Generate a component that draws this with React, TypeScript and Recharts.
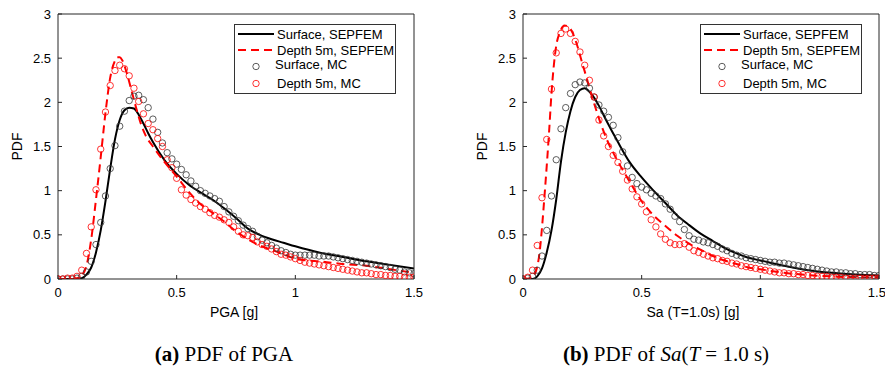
import { ComposedChart, Legend, Line, Scatter, XAxis, YAxis } from 'recharts';

// MC histogram bin positions (g)
const mcX = [
  0, 0.02, 0.04, 0.06, 0.08, 0.1, 0.12, 0.14, 0.16, 0.18,
  0.2, 0.22, 0.24, 0.26, 0.28, 0.3, 0.32, 0.34, 0.36, 0.38,
  0.4, 0.42, 0.44, 0.46, 0.48, 0.5, 0.52, 0.54, 0.56, 0.58,
  0.6, 0.62, 0.64, 0.66, 0.68, 0.7, 0.72, 0.74, 0.76, 0.78,
  0.8, 0.82, 0.84, 0.86, 0.88, 0.9, 0.92, 0.94, 0.96, 0.98,
  1.0, 1.02, 1.04, 1.06, 1.08, 1.1, 1.12, 1.14, 1.16, 1.18,
  1.2, 1.22, 1.24, 1.26, 1.28, 1.3, 1.32, 1.34, 1.36, 1.38,
  1.4, 1.42, 1.44, 1.46, 1.48, 1.5,
];

// (a) PGA
const pgaSurfMC = [
  0, 0, 0, 0, 0.01, 0.03, 0.08, 0.2, 0.39, 0.64,
  0.94, 1.25, 1.51, 1.73, 1.9, 2.02, 2.07, 2.08, 2.03, 1.94,
  1.81, 1.66, 1.54, 1.43, 1.36, 1.3, 1.24, 1.18, 1.11, 1.05,
  1.0, 0.97, 0.94, 0.91, 0.88, 0.82, 0.76, 0.71, 0.66, 0.61,
  0.57, 0.54, 0.48, 0.44, 0.41, 0.38, 0.35, 0.32, 0.3, 0.28,
  0.27, 0.27, 0.27, 0.27, 0.27, 0.26, 0.26, 0.26, 0.25, 0.24,
  0.23, 0.22, 0.21, 0.2, 0.19, 0.18, 0.17, 0.16, 0.15, 0.14,
  0.13, 0.11, 0.1, 0.08, 0.07, 0.06,
];
const pgaDepthMC = [
  0, 0, 0.01, 0.01, 0.03, 0.1, 0.29, 0.59, 1.01, 1.47,
  1.89, 2.19, 2.36, 2.42, 2.38, 2.3, 2.16, 2.01, 1.87, 1.76,
  1.69, 1.59, 1.5, 1.35, 1.26, 1.14, 1.01, 0.95, 0.9, 0.86,
  0.82, 0.79, 0.75, 0.72, 0.7, 0.67, 0.64, 0.59, 0.54, 0.5,
  0.49, 0.47, 0.42, 0.39, 0.37, 0.34, 0.31, 0.28, 0.27, 0.25,
  0.23, 0.21, 0.19, 0.18, 0.17, 0.16, 0.15, 0.14, 0.13, 0.12,
  0.11, 0.1, 0.09, 0.08, 0.07, 0.07, 0.06, 0.05, 0.05, 0.04,
  0.04, 0.03, 0.03, 0.02, 0.02, 0.02,
];
const pgaSurfLineX = [
  0, 0.05, 0.1, 0.12, 0.14, 0.16, 0.18, 0.2, 0.22, 0.24, 0.26, 0.28, 0.3, 0.32, 0.34, 0.36, 0.38, 0.4,
  0.45, 0.5, 0.55, 0.6, 0.65, 0.7, 0.75, 0.8, 0.85, 0.9, 0.95, 1.0, 1.1, 1.2, 1.3, 1.4, 1.5,
];
const pgaSurfLine = [
  0, 0, 0.01, 0.05, 0.13, 0.3, 0.55, 0.88, 1.25, 1.58, 1.8, 1.91, 1.94, 1.93, 1.86, 1.76, 1.65, 1.55,
  1.34, 1.19, 1.07, 0.98, 0.9, 0.8, 0.69, 0.57, 0.5, 0.45, 0.41, 0.37, 0.3, 0.25, 0.2, 0.16, 0.12,
];
const pgaDepthLineX = [
  0, 0.06, 0.08, 0.1, 0.12, 0.14, 0.16, 0.18, 0.2, 0.22, 0.24, 0.25, 0.26, 0.27, 0.29, 0.31, 0.33, 0.35, 0.37,
  0.4, 0.45, 0.5, 0.55, 0.6, 0.65, 0.7, 0.75, 0.8, 0.85, 0.9, 0.95, 1.0, 1.05, 1.1, 1.2, 1.3, 1.4, 1.5,
];
const pgaDepthLine = [
  0, 0, 0.01, 0.04, 0.15, 0.45, 0.9, 1.38, 1.88, 2.28, 2.47, 2.51, 2.51, 2.48, 2.33, 2.13, 1.93, 1.75, 1.62,
  1.5, 1.32, 1.16, 0.99, 0.85, 0.75, 0.65, 0.54, 0.45, 0.38, 0.33, 0.28, 0.23, 0.21, 0.2, 0.17, 0.15, 0.11, 0.07,
];

// (b) Sa(T=1.0s)
const saSurfMC = [
  0, 0.01, 0.03, 0.1, 0.26, 0.55, 0.94, 1.35, 1.7, 1.94,
  2.1, 2.2, 2.23, 2.22, 2.16, 2.06, 1.97, 1.9, 1.83, 1.74,
  1.6, 1.44, 1.28, 1.15, 1.08, 1.04, 1.01, 0.97, 0.94, 0.91,
  0.85, 0.79, 0.71, 0.65, 0.56, 0.49, 0.45, 0.44, 0.42, 0.41,
  0.39, 0.37, 0.34, 0.32, 0.29, 0.27, 0.26, 0.24, 0.23, 0.22,
  0.21, 0.2, 0.19, 0.19, 0.18, 0.18, 0.17, 0.16, 0.15, 0.14,
  0.13, 0.12, 0.11, 0.1, 0.09, 0.08, 0.08, 0.07, 0.07, 0.06,
  0.06, 0.05, 0.05, 0.05, 0.04, 0.04,
];
const saDepthMC = [
  0, 0.02, 0.1, 0.38, 0.92, 1.58, 2.15, 2.56, 2.78, 2.83,
  2.78, 2.69, 2.57, 2.42, 2.25, 2.06, 1.8, 1.62, 1.5, 1.4,
  1.32, 1.22, 1.12, 1.02, 0.93, 0.85, 0.76, 0.67, 0.59, 0.51,
  0.45, 0.41, 0.39, 0.39, 0.4, 0.36, 0.32, 0.3, 0.28, 0.26,
  0.24, 0.23, 0.21, 0.2, 0.18, 0.17, 0.15, 0.14, 0.13, 0.12,
  0.11, 0.1, 0.09, 0.08, 0.07, 0.07, 0.06, 0.06, 0.05, 0.05,
  0.04, 0.04, 0.03, 0.03, 0.03, 0.02, 0.02, 0.02, 0.01, 0.01,
  0.01, 0.01, 0.01, 0.01, 0.01, 0.01,
];
const saSurfLineX = [
  0, 0.04, 0.06, 0.08, 0.1, 0.12, 0.14, 0.16, 0.18, 0.2, 0.22, 0.24, 0.26, 0.28, 0.3, 0.32, 0.35,
  0.4, 0.45, 0.5, 0.55, 0.6, 0.65, 0.7, 0.75, 0.8, 0.85, 0.9, 0.95, 1.0, 1.1, 1.2, 1.3, 1.4, 1.5,
];
const saSurfLine = [
  0, 0, 0.03, 0.12, 0.3, 0.55, 0.9, 1.33, 1.66, 1.9, 2.06, 2.14, 2.16, 2.12, 2.05, 1.96, 1.8,
  1.55, 1.32, 1.15, 1.0, 0.86, 0.72, 0.61, 0.51, 0.43, 0.35, 0.29, 0.24, 0.21, 0.15, 0.1, 0.07, 0.05, 0.04,
];
const saDepthLineX = [
  0, 0.03, 0.05, 0.06, 0.07, 0.08, 0.09, 0.1, 0.11, 0.12, 0.13, 0.14, 0.155, 0.175, 0.19, 0.21, 0.23,
  0.25, 0.27, 0.29, 0.31, 0.33, 0.35, 0.4, 0.45, 0.5, 0.55, 0.6, 0.65, 0.7, 0.75, 0.8, 0.85, 0.9, 0.95,
  1.0, 1.1, 1.2, 1.3, 1.4, 1.5,
];
const saDepthLine = [
  0, 0.01, 0.06, 0.14, 0.3, 0.58, 0.92, 1.28, 1.67, 2.1, 2.42, 2.64, 2.79, 2.87, 2.86, 2.78, 2.63,
  2.44, 2.26, 2.07, 1.9, 1.74, 1.6, 1.33, 1.1, 0.88, 0.72, 0.6, 0.49, 0.4, 0.33, 0.26, 0.21, 0.17, 0.13,
  0.11, 0.07, 0.045, 0.03, 0.02, 0.02,
];

const xTicks = [0, 0.5, 1, 1.5];
const yTicks = [0, 0.5, 1, 1.5, 2, 2.5, 3];
const legendLabels = ['Surface, SEPFEM', 'Depth 5m, SEPFEM', 'Surface, MC', 'Depth 5m, MC'];

const RED = '#ff0000';
const AXIS = '#262626';
const SANS = '"Liberation Sans", Arial, Helvetica, sans-serif';
const SERIF = '"Liberation Serif", "Times New Roman", serif';

const toPts = (xs: number[], ys: number[]) => xs.map((x, i) => ({ x, y: ys[i] }));

const ring = (color: string) => (p: any) =>
  <circle cx={p.cx} cy={p.cy} r={3.2} fill="none" stroke={color} strokeWidth={0.8} />;

function LegendBox() {
  const txt = { fontFamily: SANS, fontSize: 13, fill: '#000' };
  return (
    <svg width={163} height={70} style={{ display: 'block' }}>
      <rect x={0.5} y={0.5} width={161} height={69} fill="#fff" stroke="#333" />
      <line x1={4} x2={40} y1={10} y2={10} stroke="#000" strokeWidth={2} />
      <text x={43} y={14.5} {...txt}>{legendLabels[0]}</text>
      <line x1={4} x2={40} y1={26} y2={26} stroke={RED} strokeWidth={2} strokeDasharray="8 5" />
      <text x={43} y={30.5} {...txt}>{legendLabels[1]}</text>
      <circle cx={22} cy={42.5} r={3.2} fill="none" stroke="#333" strokeWidth={0.8} />
      <text x={41} y={45} {...txt}>{legendLabels[2]}</text>
      <circle cx={22} cy={59.5} r={3.2} fill="none" stroke={RED} strokeWidth={0.8} />
      <text x={43} y={63.5} {...txt}>{legendLabels[3]}</text>
    </svg>
  );
}

type PanelProps = {
  width: number;
  yAxisWidth: number;
  yLabelOffset: number;
  marginRight: number;
  legendLeft: number;
  xLabel: string;
  xLabelShift: number;
  surfLine: { x: number; y: number }[];
  depthLine: { x: number; y: number }[];
  surfMC: { x: number; y: number }[];
  depthMC: { x: number; y: number }[];
};

function Panel(p: PanelProps) {
  const tick = { fontSize: 13, fill: '#000', fontFamily: SANS };
  return (
    <ComposedChart
      width={p.width}
      height={330}
      margin={{ top: 13, right: p.marginRight, bottom: 11, left: 0 }}
    >
      <XAxis
        dataKey="x"
        type="number"
        domain={[0, 1.5]}
        ticks={xTicks}
        allowDataOverflow
        height={40}
        stroke={AXIS}
        tickSize={-4}
        tickMargin={13}
        tick={tick}
        label={{
          value: p.xLabel,
          position: 'insideBottom',
          offset: 2,
          dx: p.xLabelShift,
          fill: '#000',
          fontSize: 14,
          fontFamily: SANS,
        }}
      />
      <XAxis
        xAxisId="top"
        orientation="top"
        type="number"
        domain={[0, 1.5]}
        ticks={xTicks}
        height={1}
        stroke={AXIS}
        tickSize={-4}
        tick={false}
      />
      <YAxis
        dataKey="y"
        type="number"
        domain={[0, 3]}
        ticks={yTicks}
        allowDataOverflow
        width={p.yAxisWidth}
        stroke={AXIS}
        tickSize={-4}
        tickMargin={11}
        tick={tick}
        label={{
          value: 'PDF',
          angle: -90,
          position: 'insideLeft',
          offset: p.yLabelOffset,
          fill: '#000',
          fontSize: 14,
          fontFamily: SANS,
          style: { textAnchor: 'middle' },
        }}
      />
      <YAxis
        yAxisId="right"
        orientation="right"
        type="number"
        domain={[0, 3]}
        ticks={yTicks}
        width={1}
        stroke={AXIS}
        tickSize={-4}
        tick={false}
      />
      <Line data={p.surfLine} dataKey="y" type="monotone" stroke="#000" strokeWidth={2} dot={false} isAnimationActive={false} />
      <Line data={p.depthLine} dataKey="y" type="monotone" stroke={RED} strokeWidth={2} strokeDasharray="8 5" dot={false} isAnimationActive={false} />
      <Scatter data={p.surfMC} shape={ring('#333')} isAnimationActive={false} />
      <Scatter data={p.depthMC} shape={ring(RED)} isAnimationActive={false} />
      <Legend
        layout="horizontal"
        verticalAlign="middle"
        align="center"
        wrapperStyle={{ left: p.legendLeft, top: 24, width: 163, height: 70 }}
        content={() => <LegendBox />}
      />
    </ComposedChart>
  );
}

export default function App() {
  return (
    <div style={{ position: 'absolute', left: 0, top: 0, width: 885, height: 368, background: '#fff' }}>
      <div style={{ position: 'absolute', left: 0, top: 0 }}>
        <Panel
          width={440}
          yAxisWidth={58}
          yLabelOffset={17}
          marginRight={25}
          legendLeft={234}
          xLabel="PGA [g]"
          xLabelShift={-2}
          surfLine={toPts(pgaSurfLineX, pgaSurfLine)}
          depthLine={toPts(pgaDepthLineX, pgaDepthLine)}
          surfMC={toPts(mcX, pgaSurfMC)}
          depthMC={toPts(mcX, pgaDepthMC)}
        />
      </div>
      <div style={{ position: 'absolute', left: 440, top: 0 }}>
        <Panel
          width={445}
          yAxisWidth={83}
          yLabelOffset={42}
          marginRight={5}
          legendLeft={260}
          xLabel="Sa (T=1.0s) [g]"
          xLabelShift={-8}
          surfLine={toPts(saSurfLineX, saSurfLine)}
          depthLine={toPts(saDepthLineX, saDepthLine)}
          surfMC={toPts(mcX, saSurfMC)}
          depthMC={toPts(mcX, saDepthMC)}
        />
      </div>
      <svg width={885} height={38} style={{ position: 'absolute', left: 0, top: 330 }}>
        <text x={224} y={31} textAnchor="middle" fontFamily={SERIF} fontSize={21} fill="#000">
          <tspan fontWeight="bold">(a)</tspan> PDF of PGA
        </text>
        <text x={666} y={31} textAnchor="middle" fontFamily={SERIF} fontSize={21} fill="#000">
          <tspan fontWeight="bold">(b)</tspan> PDF of <tspan fontStyle="italic">Sa</tspan>(<tspan fontStyle="italic">T</tspan> = 1.0 s)
        </text>
      </svg>
    </div>
  );
}
